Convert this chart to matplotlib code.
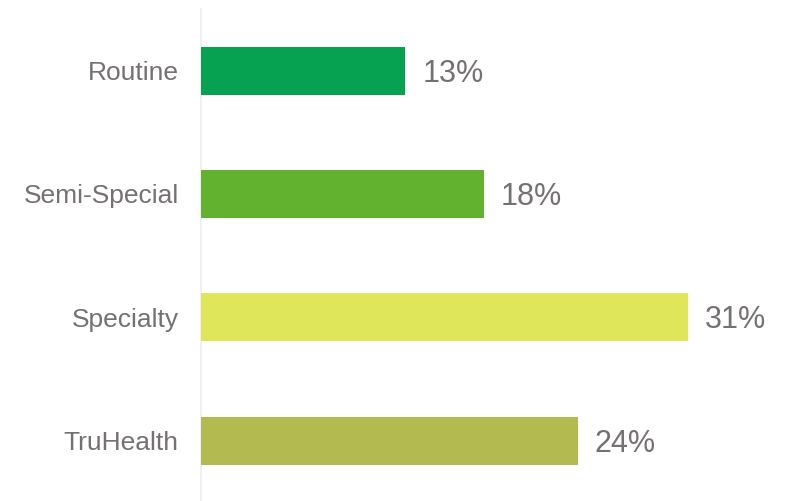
import matplotlib
matplotlib.use("Agg")
import matplotlib.pyplot as plt

categories = ["Routine", "Semi-Special", "Specialty", "TruHealth"]
shares = [13, 18, 31, 24]
bar_colors = ["#06A251", "#63B22F", "#DFE65A", "#B3BA50"]

TEXT = "#767171"
plt.rcParams["font.family"] = ["Liberation Sans", "DejaVu Sans"]

fig = plt.figure(figsize=(7.93, 5.01), dpi=100)
ax = fig.add_axes([201 / 793, 0, 1 - 201 / 793, 1 - 9 / 501])

y = list(range(len(categories)))
bars = ax.barh(y, shares, height=0.39, color=bar_colors, zorder=3)
# value labels just right of each bar
for b, v in zip(bars, shares):
    ax.annotate(f"{v}%", (b.get_width(), b.get_y() + b.get_height() / 2),
                xytext=(17, -3), textcoords="offset pixels",
                va="center", ha="left", fontsize=22, color=TEXT)

ax.set_yticks(y)
ax.set_yticklabels(categories, fontsize=19, color=TEXT)
ax.tick_params(axis="y", length=0, pad=16)
ax.set_xticks([])
ax.set_xlim(0, 37.7)
ax.set_ylim(3.49, -0.50)
for s in ["top", "right", "bottom"]:
    ax.spines[s].set_visible(False)
ax.spines["left"].set_color("#F0F0F0")
ax.spines["left"].set_linewidth(1.5)

fig.savefig("out.png", facecolor="white")
